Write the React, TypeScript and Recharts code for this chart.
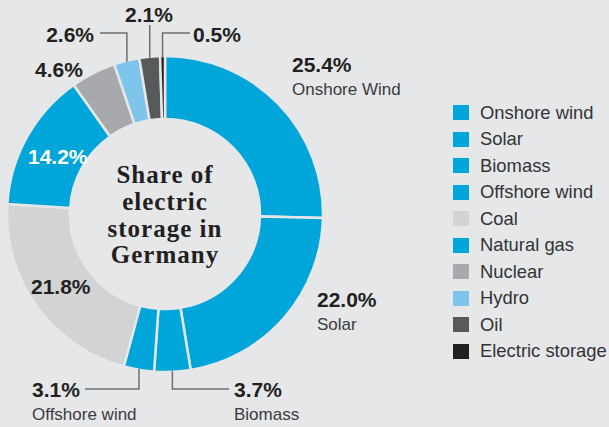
import React from 'react';
import { PieChart, Pie, Cell, Legend, Label } from 'recharts';

const categories = ['Onshore wind', 'Solar', 'Biomass', 'Offshore wind', 'Coal', 'Natural gas', 'Nuclear', 'Hydro', 'Oil', 'Electric storage'];
const shares = [25.4, 22.0, 3.7, 3.1, 21.8, 14.2, 4.6, 2.6, 2.1, 0.5];
const captions = ['Onshore Wind', 'Solar', 'Biomass', 'Offshore wind', '', '', '', '', '', ''];
const titleLines = ['Share of', 'electric', 'storage in', 'Germany'];

const colors = ['#00a6da', '#00a6da', '#00a6da', '#00a6da', '#d2d3d5', '#00a6da', '#a7a9ac', '#7fc4ea', '#58595b', '#231f20'];
const BG = '#e6e7e9';
const INK = '#231f20';
const SANS = '"Liberation Sans", Arial, Helvetica, sans-serif';

const data = categories.map((name, i) => ({ name, value: shares[i] }));

// label placement (style only)
type Spec = { x: number; y: number; anchor?: 'start' | 'end'; color?: string; elbowY?: number; endX?: number };
const labelSpecs: Spec[] = [
  { x: 292, y: 72 },
  { x: 317, y: 307 },
  { x: 234, y: 397, elbowY: 389, endX: 229 },
  { x: 32, y: 397, elbowY: 389, endX: 85 },
  { x: 31, y: 294 },
  { x: 28, y: 164, color: '#ffffff' },
  { x: 35, y: 77 },
  { x: 94, y: 42, anchor: 'end', elbowY: 33, endX: 100 },
  { x: 125, y: 22, elbowY: 25 },
  { x: 193, y: 42, elbowY: 33, endX: 190 },
];

const RADIAN = Math.PI / 180;

const renderLabel = (props: any) => {
  const { cx, cy, midAngle, outerRadius, index, value } = props;
  const spec = labelSpecs[index];
  const ax = cx + (outerRadius - 1) * Math.cos(-midAngle * RADIAN);
  const ay = cy + (outerRadius - 1) * Math.sin(-midAngle * RADIAN);
  let path = '';
  if (spec.elbowY !== undefined) {
    path = `M${ax},${ay} L${ax},${spec.elbowY}`;
    if (spec.endX !== undefined) path += ` L${spec.endX},${spec.elbowY}`;
  }
  return (
    <g key={`lbl-${index}`}>
      {path && <path d={path} stroke="#6d6e71" strokeWidth={1.5} fill="none" />}
      <text x={spec.x} y={spec.y} textAnchor={spec.anchor || 'start'} fill={spec.color || INK}
        style={{ fontFamily: SANS, fontWeight: 700, fontSize: 21 }}>
        {`${Number(value).toFixed(1)}%`}
      </text>
      {captions[index] && (
        <text x={spec.x} y={spec.y + 23} textAnchor="start" fill="#3b3b3d"
          style={{ fontFamily: SANS, fontWeight: 400, fontSize: 17 }}>
          {captions[index]}
        </text>
      )}
    </g>
  );
};

const renderCenter = (props: any) => {
  const vb = props.viewBox || {};
  const cx = vb.cx ?? 165;
  const cy = vb.cy ?? 214;
  const offsets = [-31, -4, 23, 49];
  return (
    <g>
      {titleLines.map((t, i) => (
        <text key={t} x={cx} y={cy + offsets[i]} textAnchor="middle" fill={INK}
          style={{ fontFamily: '"Liberation Serif", "Times New Roman", serif', fontWeight: 700, fontSize: 25, letterSpacing: 1 }}>
          {t}
        </text>
      ))}
    </g>
  );
};

const renderLegend = () => (
  <div style={{ display: 'flex', flexDirection: 'column' }}>
    {categories.map((c, i) => (
      <div key={c} style={{ display: 'flex', alignItems: 'center', height: 26.5 }}>
        <div style={{ width: 16, height: 15, background: colors[i], marginRight: 11, flexShrink: 0 }} />
        <span style={{ fontFamily: SANS, fontSize: 18.4, color: '#333335', whiteSpace: 'nowrap', lineHeight: '26.5px' }}>{c}</span>
      </div>
    ))}
  </div>
);

export default function App() {
  return (
    <div style={{ position: 'absolute', left: 0, top: 0, width: 609, height: 427, background: BG, overflow: 'hidden' }}>
      <PieChart width={609} height={427} margin={{ top: 0, right: 0, bottom: 0, left: 0 }}>
        <Pie
          data={data}
          dataKey="value"
          nameKey="name"
          cx={165}
          cy={214}
          outerRadius={158}
          innerRadius={95}
          startAngle={90}
          endAngle={-270}
          stroke={BG}
          strokeWidth={2.5}
          label={renderLabel}
          labelLine={false}
          isAnimationActive={false}
        >
          {data.map((d, i) => (
            <Cell key={d.name} fill={colors[i]} />
          ))}
          <Label position="center" content={renderCenter} />
        </Pie>
        <Legend
          content={renderLegend}
          wrapperStyle={{ position: 'absolute', left: 453, top: 99.5, width: 160 }}
        />
      </PieChart>
    </div>
  );
}
